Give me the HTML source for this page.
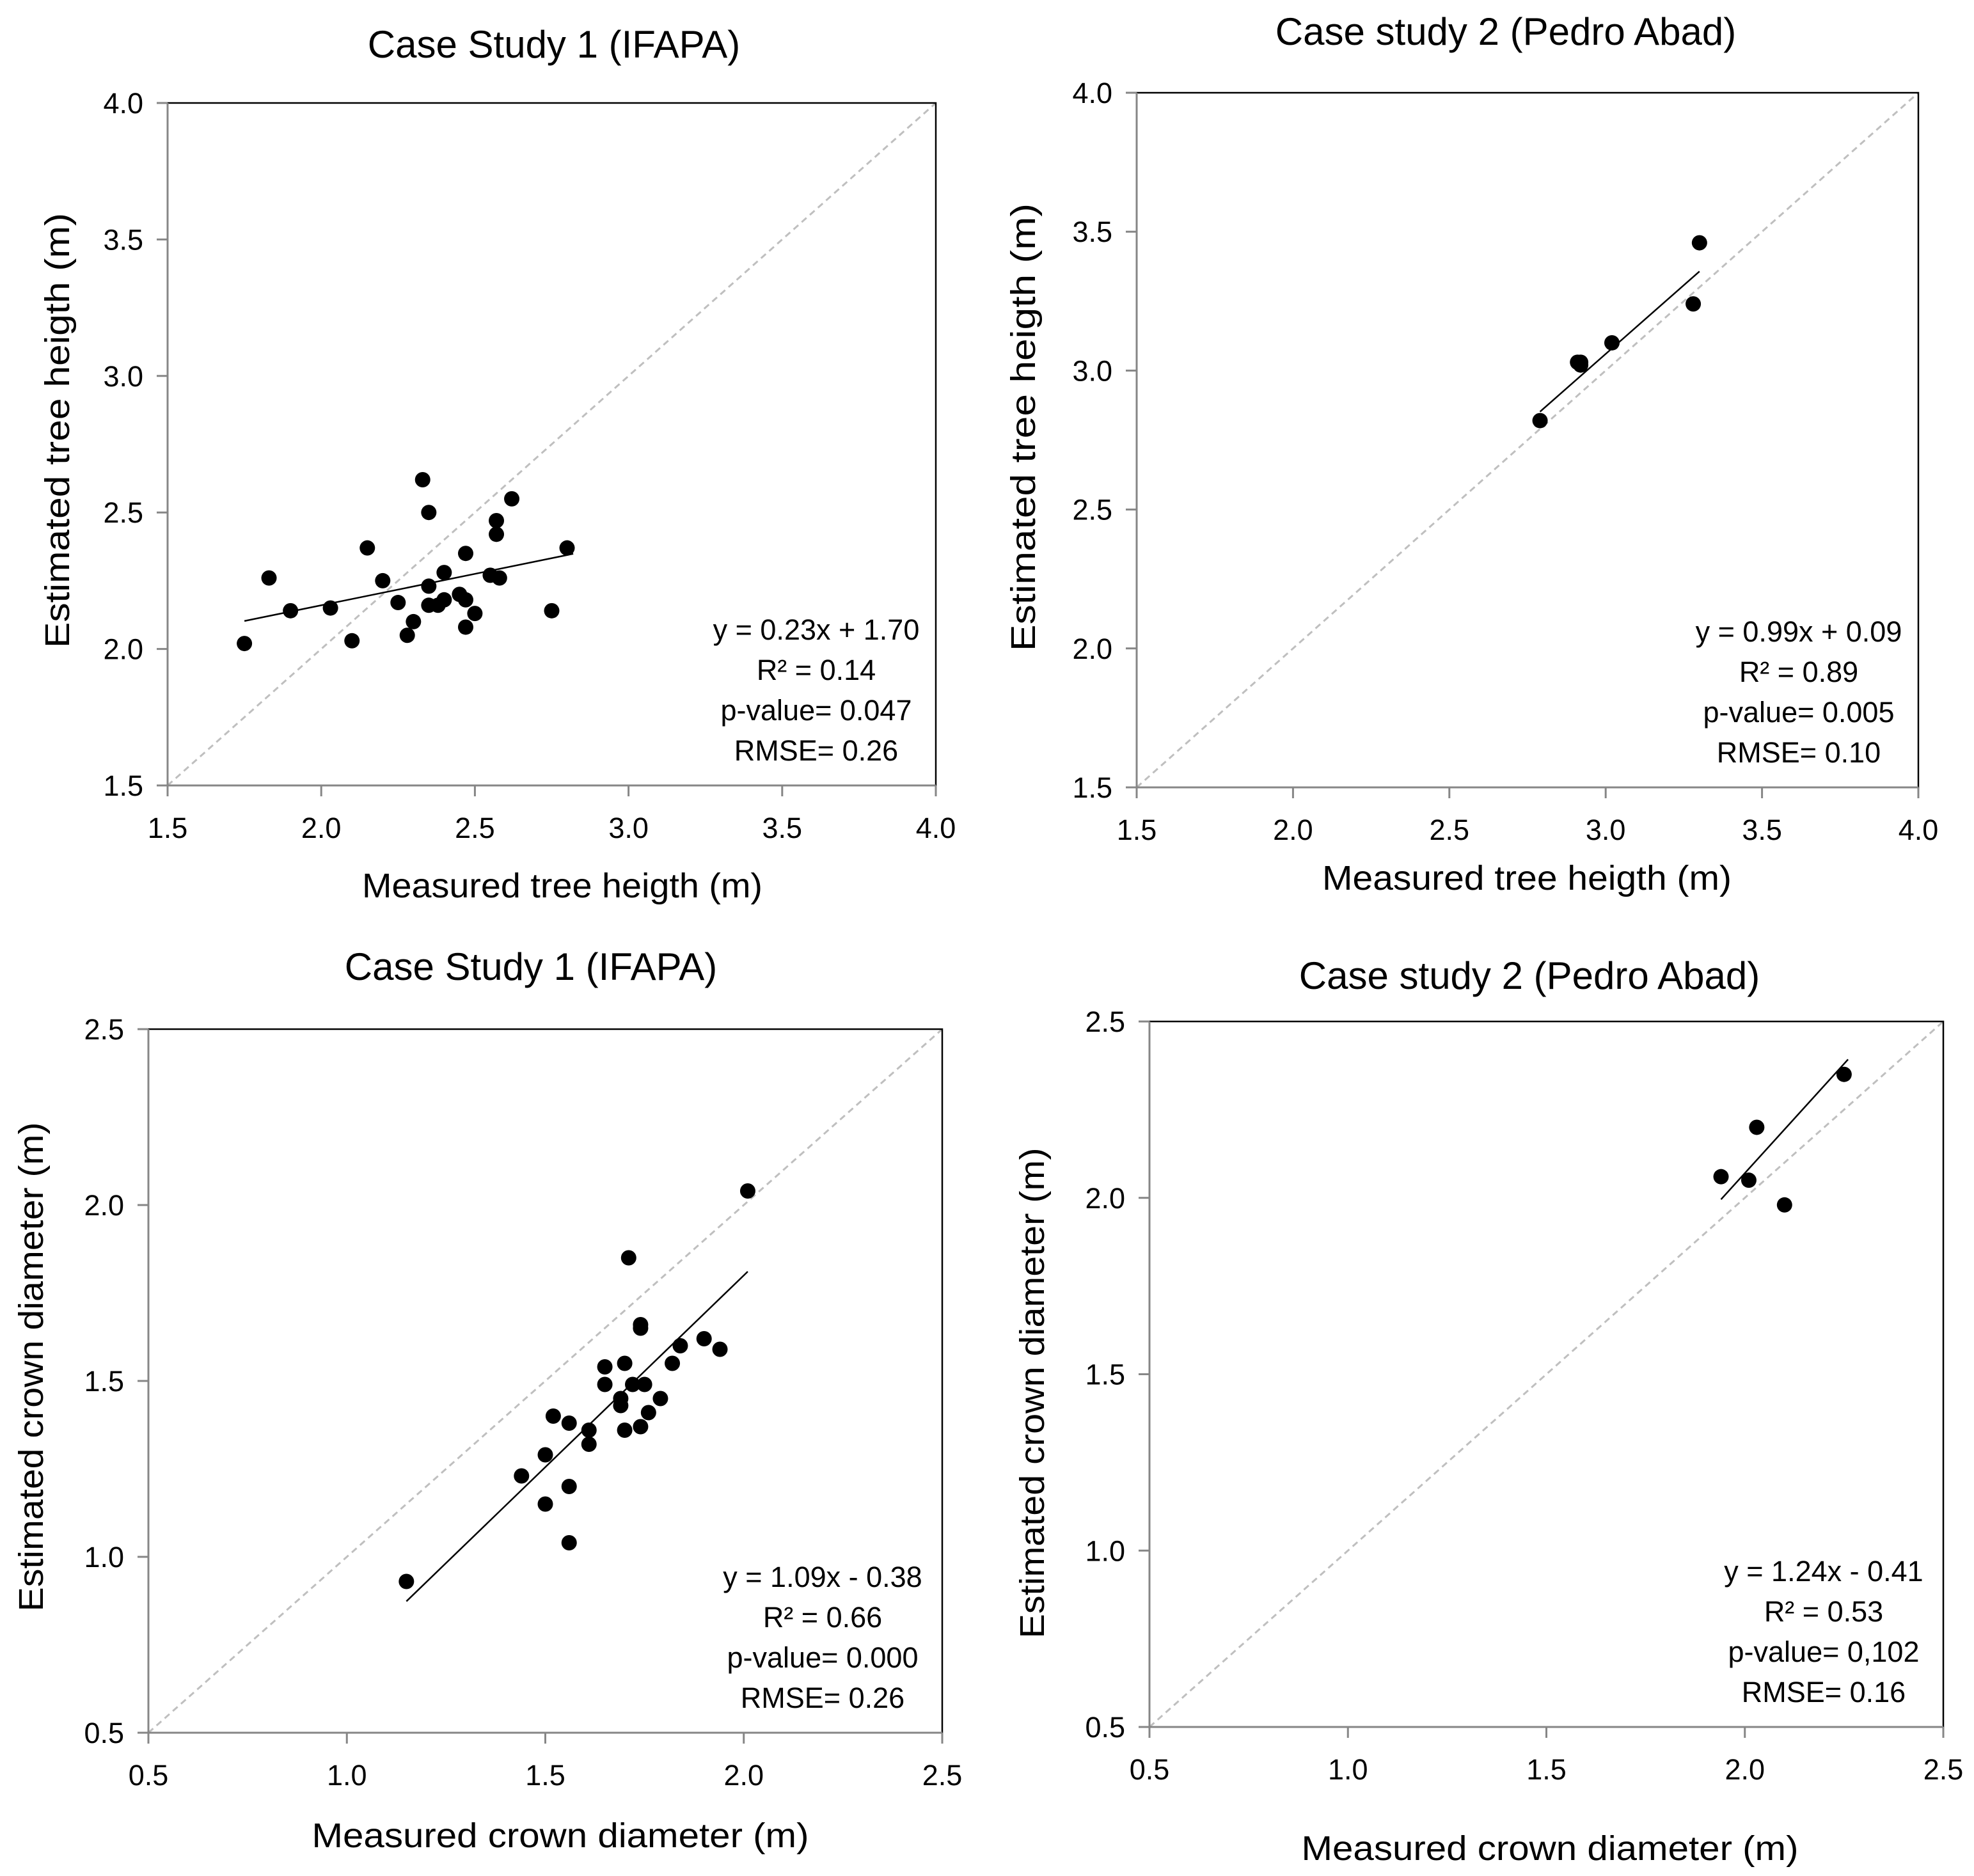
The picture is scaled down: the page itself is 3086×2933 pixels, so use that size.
<!DOCTYPE html>
<html><head><meta charset="utf-8"><style>
html,body{margin:0;padding:0;background:#fff;}
svg{display:block;font-family:"Liberation Sans",sans-serif;}
</style></head><body>
<svg id="chart" width="3086" height="2933" viewBox="0 0 3086 2933" xmlns="http://www.w3.org/2000/svg"></svg>
<script>
// Panel 1 data: tree height, IFAPA
const p1X = [1.75,1.83,1.90,2.03,2.10,2.15,2.20,2.25,2.28,2.30,2.33,2.35,2.35,2.35,2.38,2.40,2.40,2.45,2.47,2.47,2.47,2.50,2.55,2.57,2.57,2.58,2.62,2.75,2.80];
const p1Y = [2.02,2.26,2.14,2.15,2.03,2.37,2.25,2.17,2.05,2.10,2.62,2.50,2.23,2.16,2.16,2.18,2.28,2.20,2.35,2.18,2.08,2.13,2.27,2.47,2.42,2.26,2.55,2.14,2.37];
const p1Fit = [0.23,1.70]; const p1FitRange = [1.75,2.82];
const p1Stats = ["y = 0.23x + 1.70","R² = 0.14","p-value= 0.047","RMSE= 0.26"];
// Panel 2 data: tree height, Pedro Abad
const p2X = [2.79,2.91,2.92,2.92,3.02,3.28,3.30];
const p2Y = [2.82,3.03,3.02,3.03,3.10,3.24,3.46];
const p2Fit = [0.99,0.09]; const p2FitRange = [2.79,3.30];
const p2Stats = ["y = 0.99x + 0.09","R² = 0.89","p-value= 0.005","RMSE= 0.10"];
// Panel 3 data: crown diameter, IFAPA
const p3X = [1.15,1.44,1.50,1.50,1.52,1.56,1.56,1.56,1.61,1.61,1.65,1.65,1.69,1.69,1.70,1.70,1.71,1.72,1.74,1.74,1.74,1.75,1.76,1.79,1.82,1.84,1.90,1.94,2.01];
const p3Y = [0.93,1.23,1.29,1.15,1.40,1.38,1.20,1.04,1.36,1.32,1.54,1.49,1.45,1.43,1.55,1.36,1.85,1.49,1.66,1.65,1.37,1.49,1.41,1.45,1.55,1.60,1.62,1.59,2.04];
const p3Fit = [1.09,-0.38]; const p3FitRange = [1.15,2.01];
const p3Stats = ["y = 1.09x - 0.38","R² = 0.66","p-value= 0.000","RMSE= 0.26"];
// Panel 4 data: crown diameter, Pedro Abad
const p4X = [1.94,2.01,2.03,2.10,2.25];
const p4Y = [2.06,2.05,2.20,1.98,2.35];
const p4Fit = [1.24,-0.41]; const p4FitRange = [1.94,2.26];
const p4Stats = ["y = 1.24x - 0.41","R² = 0.53","p-value= 0,102","RMSE= 0.16"];
const heightTicks = ["1.5","2.0","2.5","3.0","3.5","4.0"];
const crownTicks = ["0.5","1.0","1.5","2.0","2.5"];

const NS="http://www.w3.org/2000/svg";
const svg=document.getElementById('chart');
function mk(tag,attrs,parent){const e=document.createElementNS(NS,tag);for(const k in attrs)e.setAttribute(k,attrs[k]);(parent||svg).appendChild(e);return e;}

function panel(cfg){
  const g=mk('g',{});
  
  
  const L=cfg.box[0],T=cfg.box[1],R=cfg.box[2],B=cfg.box[3];
  const lo=parseFloat(cfg.ticks[0]),hi=parseFloat(cfg.ticks[cfg.ticks.length-1]);
  const sx=v=>L+(v-lo)/(hi-lo)*(R-L);
  const sy=v=>B-(v-lo)/(hi-lo)*(B-T);
  const t=mk('text',{x:cfg.title[1],y:cfg.title[2],'font-size':60,'text-anchor':'middle','fill':'#000'},g);
  t.textContent=cfg.title[0];
  
  
  const d=mk('line',{x1:sx(lo),y1:sy(lo),x2:sx(hi),y2:sy(hi),stroke:'#bfbfbf','stroke-width':3,'stroke-dasharray':'10 7'},g);
  
  
  const top=mk('path',{d:`M${L} ${T}H${R}V${B}`,fill:'none',stroke:'#000','stroke-width':2.5},g);
  
  
  const ax=mk('path',{d:`M${L} ${T}V${B}H${R}`,fill:'none',stroke:'#868686','stroke-width':3},g);
  
  
  cfg.ticks.forEach(tk=>{
    const v=parseFloat(tk);
    mk('line',{x1:L-17,x2:L,y1:sy(v),y2:sy(v),stroke:'#868686','stroke-width':3},g);
    mk('line',{x1:sx(v),x2:sx(v),y1:B,y2:B+17,stroke:'#868686','stroke-width':3},g);
    const ty=mk('text',{x:L-38,y:sy(v)+16,'font-size':45,'text-anchor':'end'},g);
    ty.textContent=tk;
    
    
    const tx=mk('text',{x:sx(v),y:B+82,'font-size':45,'text-anchor':'middle'},g);
    tx.textContent=tk;
    
    
  });
  const xt=mk('text',{x:cfg.xt[1],y:cfg.xt[2],'font-size':54,'text-anchor':'middle',textLength:cfg.xt[3],lengthAdjust:'spacingAndGlyphs'},g);
  xt.textContent=cfg.xt[0];
  
  
  const yt=mk('text',{x:0,y:0,'font-size':54,'text-anchor':'middle',textLength:cfg.yt[3],lengthAdjust:'spacingAndGlyphs',transform:`translate(${cfg.yt[1]},${cfg.yt[2]}) rotate(-90)`},g);
  yt.textContent=cfg.yt[0];
  
  
  const f=cfg.fit,fr=cfg.fitRange;
  const tl=mk('line',{x1:sx(fr[0]),y1:sy(f[0]*fr[0]+f[1]),x2:sx(fr[1]),y2:sy(f[0]*fr[1]+f[1]),stroke:'#000','stroke-width':2.5},g);
  
  
  cfg.xs.forEach((xv,i)=>{
    const c=mk('circle',{cx:sx(xv),cy:sy(cfg.ys[i]),r:12,fill:'#000'},g);
    
    
  });
  cfg.stats.forEach((s,i)=>{
    const st=mk('text',{x:R-187,y:B-228+i*63,'font-size':45,'text-anchor':'middle'},g);
    st.textContent=s;
    
    
  });
}

panel({name:'panel-height-ifapa',box:[262,161,1463,1228],ticks:heightTicks,title:['Case Study 1 (IFAPA)',866,90],
  xt:['Measured tree heigth (m)',879,1403,626],yt:['Estimated tree heigth (m)',108,673,680],
  xs:p1X,ys:p1Y,fit:p1Fit,fitRange:p1FitRange,stats:p1Stats});
panel({name:'panel-height-pedro-abad',box:[1777,145,2999,1231],ticks:heightTicks,title:['Case study 2 (Pedro Abad)',2354,70],
  xt:['Measured tree heigth (m)',2387,1391,640],yt:['Estimated tree heigth (m)',1618,668,700],
  xs:p2X,ys:p2Y,fit:p2Fit,fitRange:p2FitRange,stats:p2Stats});
panel({name:'panel-crown-ifapa',box:[232,1609,1473,2709],ticks:crownTicks,title:['Case Study 1 (IFAPA)',830,1532],
  xt:['Measured crown diameter (m)',876,2888,777],yt:['Estimated crown diameter (m)',67,2137,765],
  xs:p3X,ys:p3Y,fit:p3Fit,fitRange:p3FitRange,stats:p3Stats});
panel({name:'panel-crown-pedro-abad',box:[1797,1597,3038,2700],ticks:crownTicks,title:['Case study 2 (Pedro Abad)',2391,1546],
  xt:['Measured crown diameter (m)',2423,2908,777],yt:['Estimated crown diameter (m)',1632,2178,767],
  xs:p4X,ys:p4Y,fit:p4Fit,fitRange:p4FitRange,stats:p4Stats});
</script>
</body></html>
